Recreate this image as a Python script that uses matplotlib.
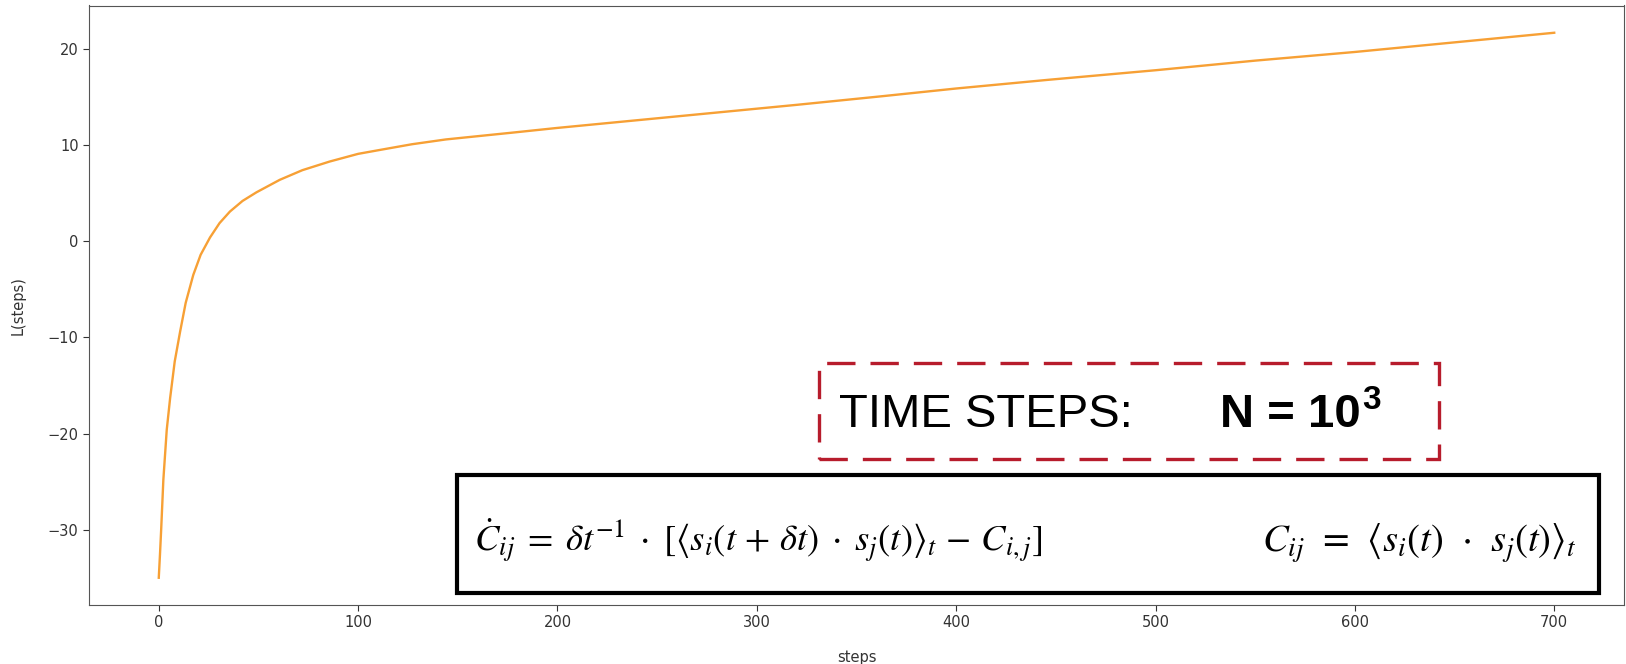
import matplotlib
matplotlib.use("Agg")
import matplotlib.pyplot as plt
from matplotlib.patches import Rectangle

# values
steps = [0, 0.6, 1.2, 2.3, 4.0, 5.7, 8.0, 10.7, 13.5, 17.3, 21.0, 25.7, 30.5, 35.7,
         42.0, 49.0, 60.7, 72.0, 85.7, 100.0, 110.7, 127.0, 144.0, 177.0, 200.0,
         240.0, 280.0, 320.0, 363.0, 400.0, 446.0, 500.0, 550.0, 600.0, 650.0, 700.0]
L_steps = [-35.0, -32.6, -30.0, -24.8, -19.6, -16.3, -12.5, -9.4, -6.4, -3.5, -1.4, 0.4, 1.9, 3.1,
           4.2, 5.1, 6.4, 7.4, 8.3, 9.1, 9.5, 10.1, 10.6, 11.3, 11.8,
           12.6, 13.4, 14.2, 15.1, 15.9, 16.8, 17.8, 18.8, 19.7, 20.7, 21.7]

xticks = [0, 100, 200, 300, 400, 500, 600, 700]
yticks = [-30, -20, -10, 0, 10, 20]

title_txt = "TIME STEPS:"
n_txt = "N = 10"
n_exp = "3"
eq1 = (r"$\dot{C}_{ij}\;=\;\delta t^{-1}\;\cdot\;[\langle s_i(t\,+\,\delta t)\;\cdot\;"
       r"s_j(t)\rangle_t\,-\,C_{i,j}]$")
eq2 = r"$C_{ij}\;\,=\;\,\langle s_i(t)\;\,\cdot\;\,s_j(t)\rangle_t$"

plt.rcParams['mathtext.fontset'] = 'stix'

W, H = 1626, 664
fig = plt.figure(figsize=(W / 100, H / 100), dpi=100)
ax = fig.add_axes([89 / W, 1 - 605 / H, (1624 - 89) / W, (605 - 5.5) / H])

ax.plot(steps, L_steps, color="#F7A035", lw=1.7)
ax.set_xticks(xticks)
ax.set_yticks(yticks)
ax.tick_params(labelsize=10.5, colors="#333333", length=4)
for s in ax.spines.values():
    s.set_color("#555555")
ax.set_xlabel("steps", fontsize=10.5, color="#333333")
ax.set_ylabel("L(steps)", fontsize=10.5, color="#333333")
ax.xaxis.set_label_coords(0.5, -0.075)
ax.yaxis.set_label_coords(-0.041, 0.5)


def fx(px):
    return px / W


def fy(py):
    return 1 - py / H


# red dashed box with time steps
fig.add_artist(Rectangle((fx(819), fy(459)), (1439 - 819) / W, (459 - 363) / H,
                         transform=fig.transFigure, fill=False, ec="#B71C2C",
                         lw=2.4, ls=(0, (8.5, 4.5))))
fig.text(fx(839), fy(427), title_txt, fontsize=34, family="Liberation Sans",
         va="baseline", ha="left")
fig.text(fx(1220), fy(427), n_txt, fontsize=34, family="Liberation Sans",
         weight="bold", va="baseline", ha="left")
fig.text(fx(1362), fy(409), n_exp, fontsize=24, family="Liberation Sans",
         weight="bold", va="baseline", ha="left")

# black box with equations
fig.add_artist(Rectangle((fx(457), fy(593)), (1599 - 457) / W, (593 - 475) / H,
                         transform=fig.transFigure, fc="white", ec="black", lw=3))
fig.text(fx(474), fy(552), eq1, fontsize=26.4, va="baseline", ha="left")
fig.text(fx(1262), fy(552), eq2, fontsize=27.8, va="baseline", ha="left")

fig.savefig("out.png", dpi=100)
